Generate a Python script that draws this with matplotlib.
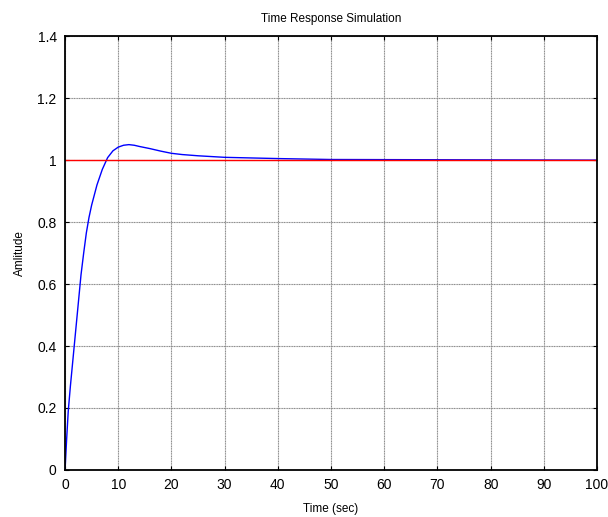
import matplotlib
matplotlib.use('Agg')
import matplotlib.pyplot as plt
import numpy as np

plt.rcParams['font.family'] = ['Liberation Sans', 'DejaVu Sans']

# step response
t = np.array([0, 0.3, 0.6, 1.0, 1.5, 2.0, 2.5, 3.0, 3.5, 4.0, 4.5, 5, 6, 7, 8, 9,
              10, 11, 12, 13, 14, 16, 18, 20, 22, 25, 28, 30, 35, 40, 50, 100])
y = np.array([0, 0.1, 0.19, 0.27, 0.36, 0.45, 0.54, 0.63, 0.7, 0.765, 0.815, 0.855,
              0.92, 0.97, 1.008, 1.03, 1.042, 1.048, 1.05, 1.048, 1.044, 1.037,
              1.029, 1.022, 1.018, 1.014, 1.011, 1.009, 1.007, 1.005, 1.002, 1.0])

ref_t = [0, 100]
ref_y = [1, 1]

xticks = np.arange(0, 101, 10)
yticks = [0, 0.2, 0.4, 0.6, 0.8, 1, 1.2, 1.4]
yticklabels = ['0', '0.2', '0.4', '0.6', '0.8', '1', '1.2', '1.4']

fig = plt.figure(figsize=(6.08, 5.17), dpi=100)
ax = fig.add_axes([0.107, 0.091, 0.875, 0.839])

ax.plot(t, y, color='blue', linewidth=1.0)
ax.plot(ref_t, ref_y, color='red', linewidth=1.0)

ax.set_xlim(0, 100)
ax.set_ylim(0, 1.4)
ax.set_xticks(xticks)
ax.set_yticks(yticks)
ax.set_yticklabels(yticklabels)

ax.grid(True, color='#8a8a8a', linestyle=(0, (1, 0.5)), linewidth=0.8)
ax.tick_params(direction='in', length=3, width=0.8, top=True, right=True,
               labelsize=10, pad=6)
for s in ax.spines.values():
    s.set_linewidth(1.3)

ax.set_title('Time Response Simulation', fontsize=8.5, pad=10)
ax.set_xlabel('Time (sec)', fontsize=8.5, labelpad=8)
ax.set_ylabel('Amlitude', fontsize=8.5, labelpad=8)

fig.savefig('out.png', dpi=100)
